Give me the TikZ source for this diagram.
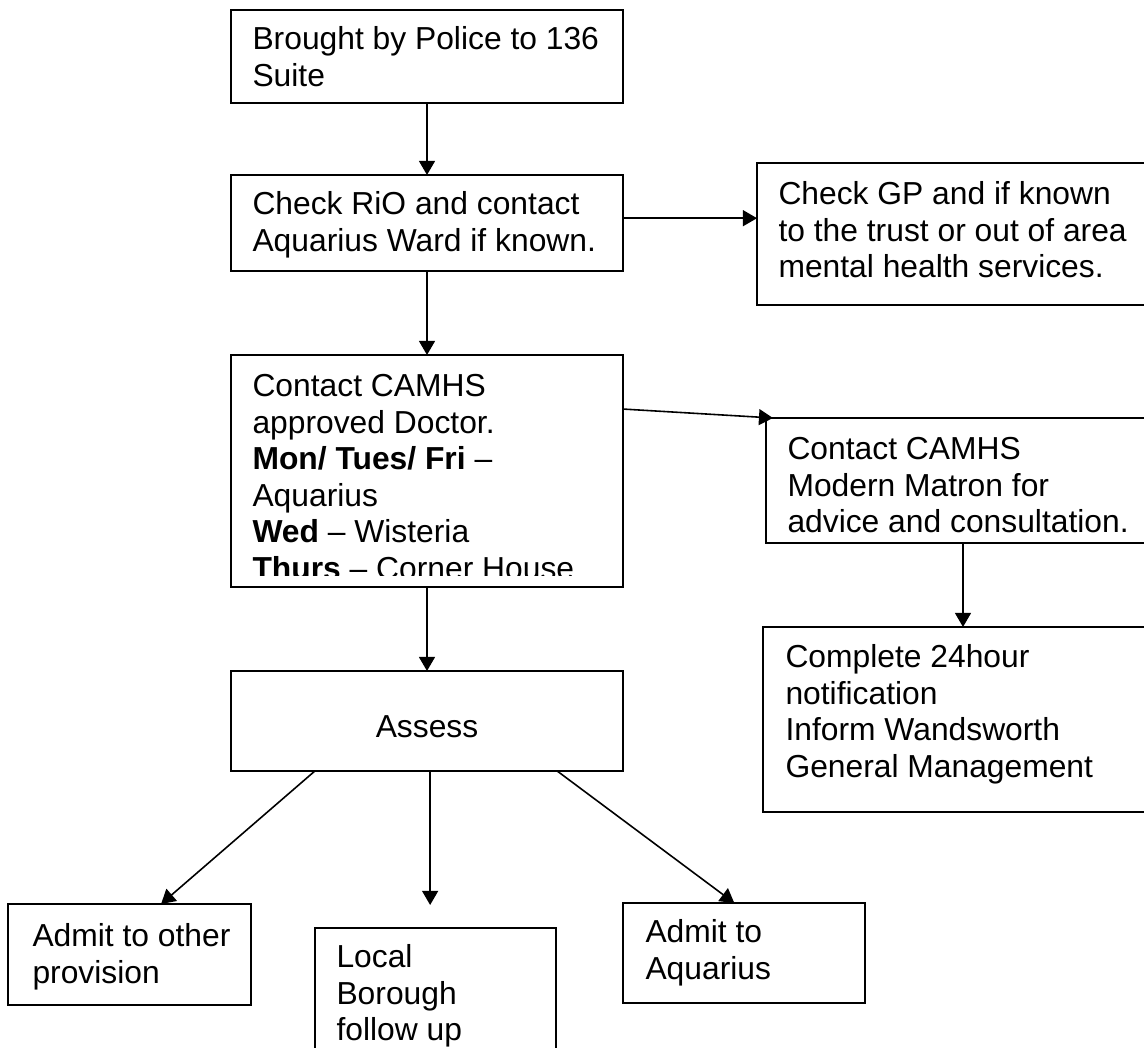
\documentclass[tikz,border=0pt]{standalone}
\usepackage{fontspec}
\setmainfont{Liberation Sans}
\usetikzlibrary{arrows.meta,calc,fit}

\begin{document}
\begin{tikzpicture}[x=0.3774pt, y=-0.3774pt, >={Triangle[length=5.3pt,width=6pt]},
		box/.style={draw, line width=0.75pt, inner sep=0pt, outer sep=0pt},
		txt/.style={anchor=base west, align=left, inner sep=0pt, font=\fontsize{12}{13.8}\selectfont},
		link/.style={->, line width=0.6pt}]
		\useasboundingbox (0,0) rectangle (1144,1048);
		\clip (0,0) rectangle (1144,1048);

		% boxes
		\node[box, fit={(231,10) (623,103)}] (brought) {};
		\node[box, fit={(231,175) (623,271)}] (rio) {};
		\node[box, fit={(757,163) (1160,305)}] (gp) {};
		\node[box, fit={(231,355) (623,587)}] (camhs) {};
		\node[box, fit={(766,418) (1160,543)}] (matron) {};
		\node[box, fit={(763,627) (1163,812)}] (notify) {};
		\node[box, fit={(231,671) (623,771)}] (assess) {};
		\node[box, fit={(8,904) (251,1005)}] (other) {};
		\node[box, fit={(315,928) (556,1090)}] (local) {};
		\node[box, fit={(623,903) (865,1003)}] (aqua) {};

		% texts (placed by the baseline of their last line)
		\node[txt] (brought-t) at (252,86.5) {Brought by Police to 136\\Suite};
		\node[txt] (rio-t) at (252,251.5) {Check RiO and contact\\Aquarius Ward if known.};
		\node[txt] (gp-t) at (778,278) {Check GP and if known\\to the trust or out of area\\mental health services.};
		\begin{scope}
			\clip (231,355) rectangle (623,576);
			\node[txt] (camhs-t) at (252,579.5) {Contact CAMHS\\approved Doctor.\\\textbf{Mon/ Tues/ Fri} --\\Aquarius\\\textbf{Wed} -- Wisteria\\\textbf{Thurs} -- Corner House};
		\end{scope}
		\node[txt] (matron-t) at (787,533) {Contact CAMHS\\Modern Matron for\\advice and consultation.};
		\node[txt] (notify-t) at (785,777.5) {Complete 24hour\\notification\\Inform Wandsworth\\General Management};
		\node[txt, anchor=base] (assess-t) at (427,738) {Assess};
		\node[txt] (other-t) at (32,983.5) {Admit to other\\provision};
		\node[txt] (local-t) at (336,1041) {Local\\Borough\\follow up};
		\node[txt] (aqua-t) at (645,979.5) {Admit to\\Aquarius};

		% arrow ends
		\coordinate (rio-out) at ($(rio.north east)!0.45!(rio.south east)$);
		\coordinate (camhs-out) at ($(camhs.north east)!0.233!(camhs.south east)$);
		\coordinate (matron-in) at ($(matron.north west)+(7,0)$);
		\coordinate (assess-l) at ($(assess.south west)!0.214!(assess.south east)$);
		\coordinate (assess-m) at ($(assess.south west)!0.508!(assess.south east)$);
		\coordinate (assess-r) at ($(assess.south west)!0.832!(assess.south east)$);
		\coordinate (other-in) at ($(other.north west)!0.63!(other.north east)$);
		\coordinate (local-in) at ($(assess-m |- local.north)+(0,-23)$);
		\coordinate (aqua-in) at ($(aqua.north west)!0.46!(aqua.north east)$);

		\path[link]
		(brought) edge (rio)
		(rio-out) edge (rio-out -| gp.west)
		(rio) edge (camhs)
		(camhs-out) edge (matron-in)
		(camhs) edge (assess)
		(matron) edge (notify)
		(assess-l) edge (other-in)
		(assess-m) edge (local-in)
		(assess-r) edge (aqua-in);
	\end{tikzpicture}
\end{document}
